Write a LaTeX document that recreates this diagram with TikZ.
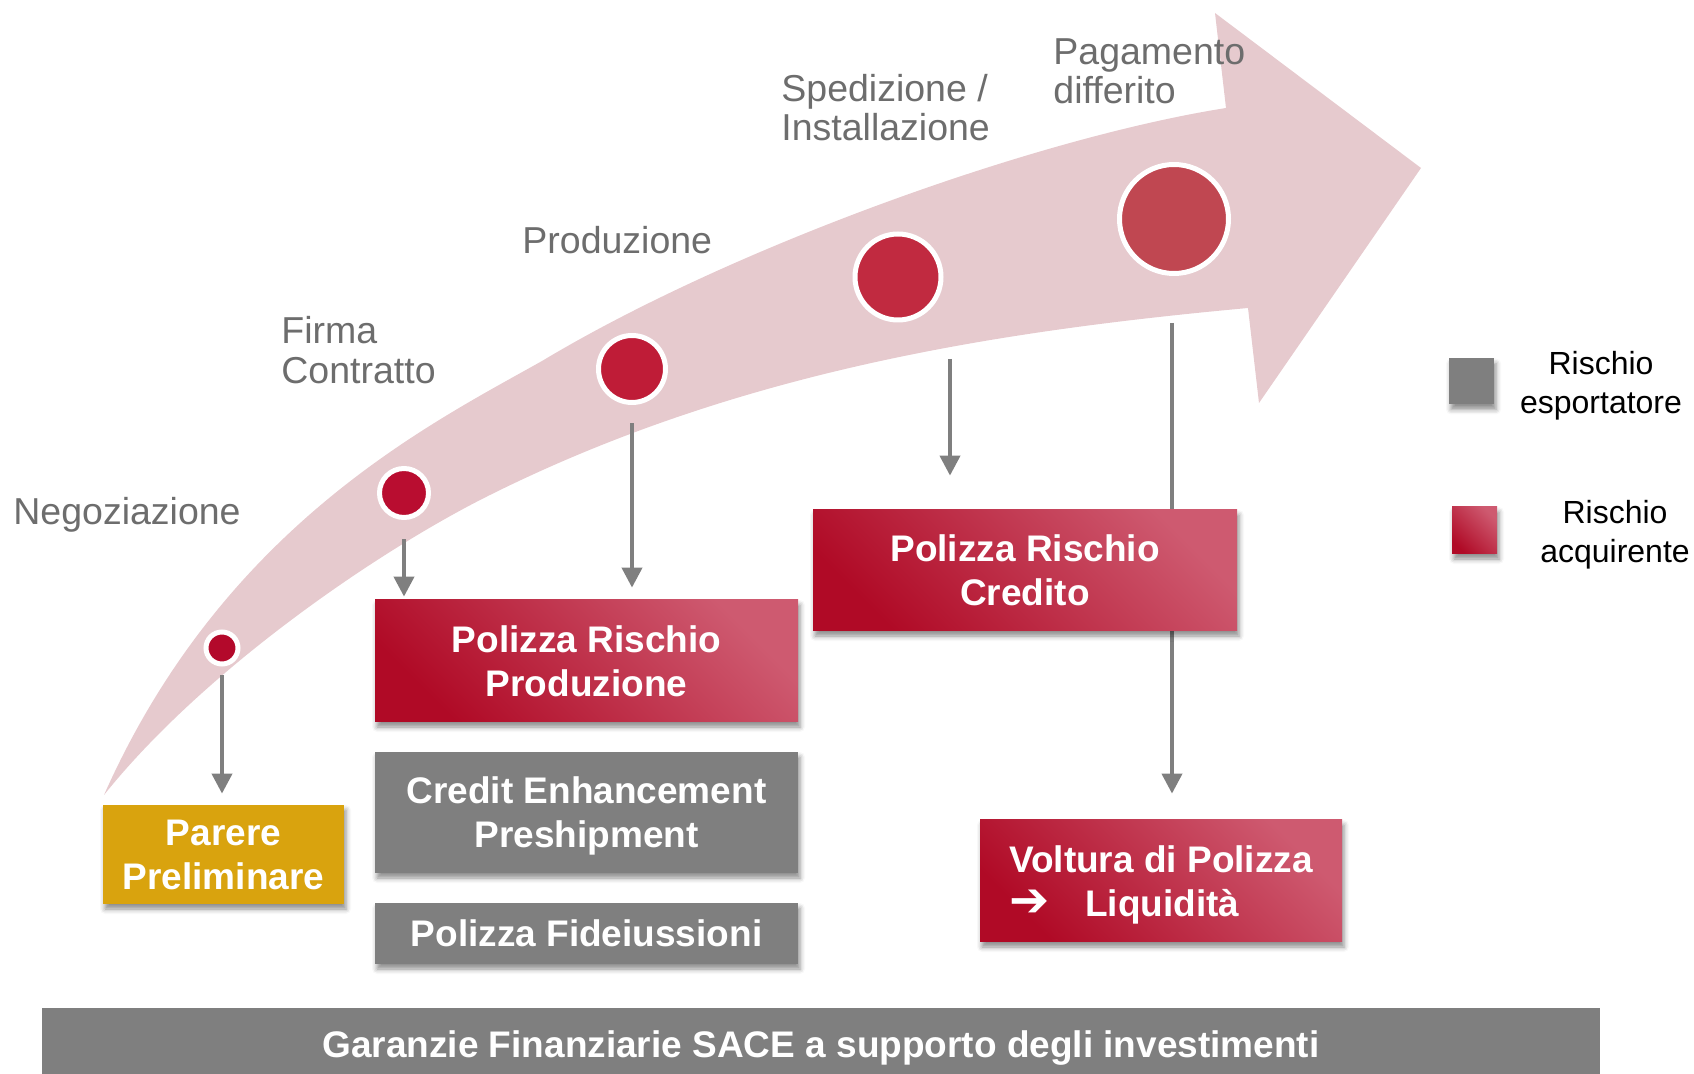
\documentclass[tikz,border=0pt]{standalone}
\usepackage{fontspec}
\setmainfont{Liberation Sans}
\newfontfamily\symfont{DejaVu Sans}
\usetikzlibrary{arrows.meta,shadows.blur,backgrounds}
\definecolor{pinkarrow}{HTML}{E6CACE}
\definecolor{stagegray}{HTML}{6D6D6D}
\definecolor{boxgray}{HTML}{7F7F7F}
\definecolor{gold}{HTML}{D9A30E}
\definecolor{rdark}{HTML}{B00A26}
\definecolor{rlight}{HTML}{CE5A70}
\definecolor{dA}{HTML}{B3092B}
\definecolor{dB}{HTML}{B90D30}
\definecolor{dC}{HTML}{BF1C37}
\definecolor{dD}{HTML}{C12A40}
\definecolor{dE}{HTML}{C04751}
\begin{document}
\begin{tikzpicture}[x=0.5pt,y=-0.5pt,
  stage/.style={anchor=west, inner sep=0, align=left, text=stagegray,
    font=\fontsize{18.75pt}{19.75pt}\selectfont},
  legendtext/.style={inner sep=0, align=center, text=black,
    font=\fontsize{16pt}{19.5pt}\selectfont},
  boxtext/.style={text=white, font=\fontsize{18.5pt}{22pt}\selectfont\bfseries,
    align=center, inner sep=0},
  shad/.style={blur shadow={shadow xshift=1pt, shadow yshift=-2.5pt,
    shadow blur radius=2.5pt, shadow opacity=45}},
  redfill/.style={bottom color=rdark, top color=rlight, shading angle=-45},
  redbox/.style={boxtext, shad, redfill},
  graybox/.style={boxtext, shad, fill=boxgray},
  dot/.style={circle, draw=white, line width=2.5pt, inner sep=0},
  conn/.style={draw=boxgray, line width=2pt, -{Triangle[width=10pt,length=10pt]}}]

\useasboundingbox (0,0) rectangle (1694,1074);

% stage dots
\node[dot, fill=dA, minimum size=16pt] (dot1) at (222,648) {};
\node[dot, fill=dB, minimum size=24.5pt] (dot2) at (404,493) {};
\node[dot, fill=dC, minimum size=33.5pt] (dot3) at (632,369) {};
\node[dot, fill=dD, minimum size=43pt] (dot4) at (898,277) {};
\node[dot, fill=dE, minimum size=54.5pt] (dot5) at (1174,219) {};

% stage labels
\node[stage] (neg) at (13,515) {Negoziazione};
\node[stage] (firma) at (281,350) {Firma\\Contratto};
\node[stage] (prodl) at (522,240) {Produzione};
\node[stage] (sped) at (781,107.5) {Spedizione /\\Installazione};
\node[stage] (pag) at (1053,71.5) {Pagamento\\differito};

% boxes
\node[boxtext, shad, fill=gold, minimum width=120.5pt, minimum height=49.5pt]
  (parere) at (223.5,854.5) {Parere\\Preliminare};
\node[redbox, minimum width=211.5pt, minimum height=61pt]
  (prod) at (586.5,661) {Polizza Rischio\\Produzione};
\node[graybox, minimum width=211.5pt, minimum height=60.5pt]
  (credit) at (586.5,812.5) {\rule{0pt}{16.5pt}Credit Enhancement\\Preshipment};
\node[graybox, minimum width=211.5pt, minimum height=30.5pt]
  (fide) at (586.5,933.5) {Polizza Fideiussioni};
\node[redbox, minimum width=212pt, minimum height=60.5pt]
  (credito) at (1025,570.5) {Polizza Rischio\\Credito};
\node[redbox, align=left, minimum width=181pt, minimum height=61pt]
  (voltura) at (1161,881) {\rule{0pt}{17.5pt}Voltura di Polizza\\\makebox[38pt][l]{\symfont\fontsize{24pt}{22pt}\selectfont ➔}Liquidità};

% bottom bar
\node[fill=boxgray, anchor=north west, inner sep=0, minimum width=779pt, minimum height=33pt]
  (bar) at (42,1008) {};
\node[boxtext] (bartext) at (821,1048) {Garanzie Finanziarie SACE a supporto degli investimenti};

% legend
\node[shad, fill=boxgray, inner sep=0, minimum width=22.5pt, minimum height=23pt]
  (lgray) at (1471.5,381.5) {};
\node[shad, redfill, inner sep=0, minimum width=22.5pt, minimum height=23.5pt]
  (lred) at (1474.5,530.5) {};
\node[legendtext] (lgraytext) at (1601,386) {Rischio\\esportatore};
\node[legendtext] (lredtext) at (1615,535) {Rischio\\acquirente};

\coordinate (c4) at (950,359);
\coordinate (c5) at (1172,323);

\begin{scope}[on background layer]
\fill[pinkarrow] (104,795) .. controls (224,525) and (432,423) .. (542,361)
  .. controls (732,247) and (1036,138) .. (1226,108)
  -- (1215,13) -- (1421,168) -- (1259,403) -- (1248,308)
  .. controls (998,331) and (738,371) .. (488,496)
  .. controls (378,551) and (204,670) .. (104,795) -- cycle;

\draw[conn, shorten <=4.5pt, shorten >=5.5pt] (dot1.south) -- (dot1.south |- parere.north);
\draw[conn, shorten <=9.75pt, shorten >=1.5pt] (dot2.south) -- (dot2.south |- prod.north);
\draw[conn, shorten <=9.25pt, shorten >=6pt] (dot3.south) -- (dot3.south |- prod.north);
\draw[conn, shorten >=17pt] (c4) -- (c4 |- credito.north);
\draw[conn, shorten >=13pt] (c5) -- (c5 |- voltura.north);
\end{scope}
\end{tikzpicture}
\end{document}
